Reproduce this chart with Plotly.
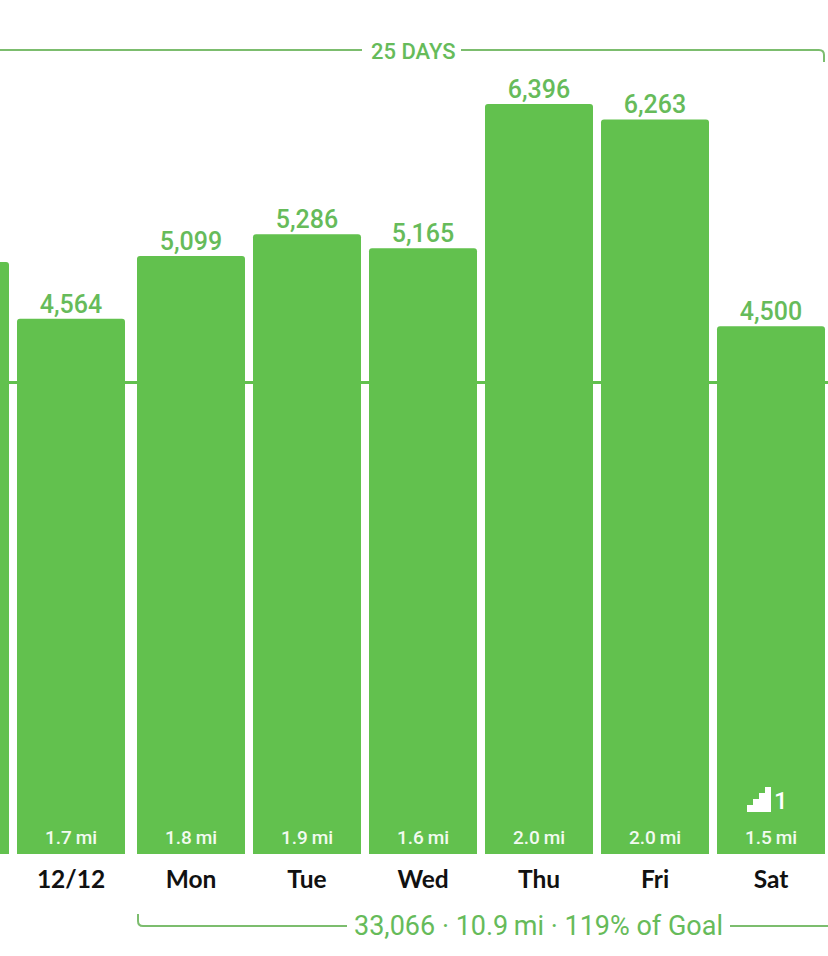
import plotly.graph_objects as go

# --- data ---
days = ["", "12/12", "Mon", "Tue", "Wed", "Thu", "Fri", "Sat"]  # first bar's label is off the picture
slots = [-1.0, 0.0, 1.0345, 2.0345, 3.0345, 4.0345, 5.0345, 6.0345]  # week gap before Mon
steps = [5049, 4564, 5099, 5286, 5165, 6396, 6263, 4500]
miles = [None, 1.7, 1.8, 1.9, 1.6, 2.0, 2.0, 1.5]
flights = [None, None, None, None, None, None, None, 1]
goal = 4020
summary = "33,066 · 10.9\u2009mi · 119% of Goal"
streak = "25 DAYS"

W, H = 828, 956
BASE = 854
GREEN = "#62C14E"
TEXT = "#66BB5A"
LINE = "#7CBD6E"
BODY = "Roboto"
LABEL = "Lato"

def fx(px):
    return px / W
def fy(py):
    return (BASE - py) / BASE

fig = go.Figure()
fig.add_trace(go.Bar(
    x=slots, y=steps, width=108 / 116, marker=dict(color=GREEN, line_width=0),
    hoverinfo="skip",
))
fig.add_trace(go.Scatter(
    x=slots, y=steps, mode="text", textposition="top center", cliponaxis=False,
    text=[f"{s:,}" if i else "" for i, s in enumerate(steps)],
    textfont=dict(family=BODY, size=25, color=TEXT, weight=500),
    hoverinfo="skip",
))
fig.add_trace(go.Scatter(
    x=slots, y=[128] * len(slots), mode="text",
    text=[f"{m:.1f}\u2009mi" if m is not None else "" for m in miles],
    textfont=dict(family=BODY, size=19, color="#F2FAF0", weight=500),
    hoverinfo="skip",
))

shapes = [
    dict(type="line", xref="paper", yref="y", x0=0, x1=1, y0=goal, y1=goal,
         line=dict(color=GREEN, width=3), layer="below"),
    dict(type="path", xref="paper", yref="paper",
         path=f"M {fx(0)} {fy(50)} L {fx(362)} {fy(50)}",
         line=dict(color=LINE, width=2)),
    dict(type="path", xref="paper", yref="paper",
         path=f"M {fx(461)} {fy(50)} L {fx(819)} {fy(50)} Q {fx(824)} {fy(50)} {fx(824)} {fy(55)} L {fx(824)} {fy(62)}",
         line=dict(color=LINE, width=2)),
    dict(type="path", xref="paper", yref="paper",
         path=f"M {fx(138)} {fy(914)} L {fx(138)} {fy(921)} Q {fx(138)} {fy(926)} {fx(143)} {fy(926)} L {fx(347)} {fy(926)}",
         line=dict(color=LINE, width=2)),
    dict(type="line", xref="paper", yref="paper", x0=fx(730), x1=1, y0=fy(926), y1=fy(926),
         line=dict(color=LINE, width=2)),
    # stairs icon
    dict(type="path", xref="paper", yref="paper", fillcolor="#FFFFFF", line_width=0,
         path=(f"M {fx(747)} {fy(812)} L {fx(747)} {fy(805)} L {fx(753)} {fy(805)} L {fx(753)} {fy(799)}"
               f" L {fx(759)} {fy(799)} L {fx(759)} {fy(793)} L {fx(765)} {fy(793)} L {fx(765)} {fy(787)}"
               f" L {fx(771)} {fy(787)} L {fx(771)} {fy(812)} Z")),
]

annotations = [
    dict(xref="paper", yref="paper", x=fx(413), y=fy(52), yanchor="middle", text=streak, showarrow=False,
         font=dict(family=BODY, size=22, color=TEXT, weight=500)),
    dict(xref="paper", yref="paper", x=fx(538), y=fy(926), yanchor="middle", text=summary, showarrow=False,
         font=dict(family=BODY, size=27, color=TEXT)),
]
for s, fl in zip(slots, flights):
    if fl is not None:
        annotations.append(dict(xref="x", yref="paper", x=s, y=fy(801), xshift=10, yanchor="middle",
                                text=str(fl), showarrow=False,
                                font=dict(family=BODY, size=24, color="#FFFFFF", weight=500)))

fig.update_layout(
    width=W, height=H, showlegend=False, barcornerradius=3,
    margin=dict(l=0, r=0, t=0, b=H - BASE, pad=0),
    paper_bgcolor="#FFFFFF", plot_bgcolor="#FFFFFF",
    shapes=shapes, annotations=annotations,
    xaxis=dict(range=[-71 / 116, (W - 71) / 116], tickvals=slots, ticktext=days,
               showgrid=False, zeroline=False, showline=False, ticks="",
               ticklabelstandoff=8,
               tickfont=dict(family=LABEL, size=24.5, color="#111111", weight=700)),
    yaxis=dict(range=[0, BASE * 6396 / 750], visible=False, showgrid=False, zeroline=False),
)
fig.write_html("out.html", config=dict(displayModeBar=False),
               post_script="document.body.style.margin='0';document.body.style.overflow='hidden';")
